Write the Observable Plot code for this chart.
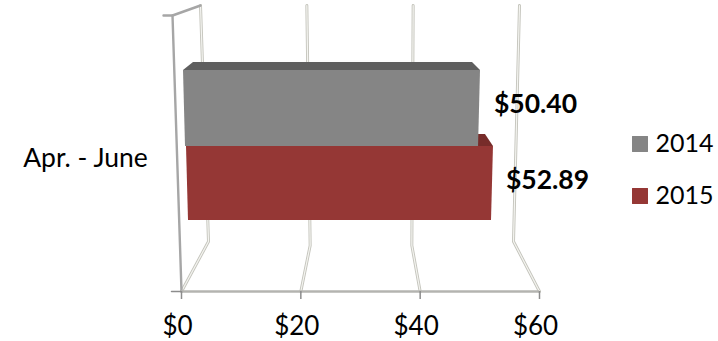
<!DOCTYPE html>
<html>
<head>
<meta charset="utf-8">
<script src="https://cdn.jsdelivr.net/npm/d3@7"></script>
<script src="https://cdn.jsdelivr.net/npm/@observablehq/plot@0.6"></script>
<style>
  html, body { margin: 0; padding: 0; background: #fff; }
  svg { display: block; }
</style>
</head>
<body>
<div id="chart"></div>
<script>
const quarter = "Apr. - June";
const years = ["2014", "2015"];
const revenue = [50.40, 52.89];
const colors = ["#858585", "#953735"];
const topColors = ["#5f5f5f", "#772c2a"];
const ticks = [0, 20, 40, 60];

// Horizontal position on the dollar axis for a pixel offset from the left edge.
const W = 718, H = 341, X0 = 181, X1 = 539, FLOOR = 291;
const PER_DOLLAR = (X1 - X0) / 60;
const toDollar = px => (px - X0) / PER_DOLLAR;
const rise = py => FLOOR - py;   // elevation above the floor of the 3-D box

// Walls of the box: each gridline runs across the floor, then up the back wall.
const backBottom = v => toDollar(208 + v * (513 - 208) / 60);
const backTop = v => toDollar(200 + v * (519 - 200) / 60);
const gridRows = ticks.flatMap(v => [
  {v, x: v, y: rise(291)},
  {v, x: backBottom(v), y: rise(v === 20 || v === 40 ? 245 : 241)},
  {v, x: backTop(v), y: rise(5)}
]);
const leftWall = [{x: toDollar(172), y: rise(15)}, {x: 0, y: rise(291)}];
const topEdge = [{x: toDollar(163), y: rise(15)}, {x: toDollar(172), y: rise(15)}, {x: backTop(0), y: rise(5)}];
const catTick = [{x: toDollar(171), y: 0}, {x: 0, y: 0}];

// The bars lean slightly with the perspective: faces are trapezoids.
const barGeom = [
  {top: 70, bottom: 146, left: 183, lean: 2, backY: 62, backIn: 8},
  {top: 146, bottom: 220, left: 186, lean: 2, backY: 134, backIn: 8}
];
const faceRows = revenue.flatMap((value, i) => {
  const g = barGeom[i];
  const scale = i === 0 ? 5.893 : 5.804;
  const l = toDollar(g.left), r = toDollar(g.left + value * scale);
  const d = toDollar(g.left + g.lean) - l;
  return [
    {year: years[i], x1: l, x2: r, y: rise(g.top)},
    {year: years[i], x1: l + d, x2: r - d * 0.98, y: rise(g.bottom)}
  ];
});
const topRows = revenue.flatMap((value, i) => {
  const g = barGeom[i];
  const scale = i === 0 ? 5.893 : 5.804;
  const l = toDollar(g.left), r = toDollar(g.left + value * scale);
  const inset = toDollar(X0 + g.backIn);
  return [
    {year: years[i], x1: l, x2: r, y: rise(g.top)},
    {year: years[i], x1: l + inset * 1.25, x2: r - inset, y: rise(g.backY)}
  ];
});
const labelPos = revenue.map((value, i) => ({
  text: "$" + value.toFixed(2),
  x: toDollar(i === 0 ? 535 : 547),
  y: rise(i === 0 ? 104 : 180)
}));

const fill = d3.scaleOrdinal(years, colors);
const topFill = d3.scaleOrdinal(years, topColors);

const plot = Plot.plot({
  width: W, height: H,
  marginLeft: X0, marginRight: W - X1, marginTop: 0, marginBottom: H - FLOOR,
  x: {domain: [0, 60], axis: null},
  y: {domain: [0, FLOOR], range: [FLOOR, 0], axis: null},
  style: {fontFamily: "Lato, 'Open Sans', sans-serif", background: "#fff", overflow: "hidden"},
  marks: [
    // Double-stroked grid
    Plot.line(gridRows, {x: "x", y: "y", z: "v", stroke: "#c4c4bc", strokeWidth: 3}),
    Plot.line(gridRows, {x: "x", y: "y", z: "v", stroke: "#f4f4f0", strokeWidth: 1.2}),
    // Box edges and floor
    Plot.line(leftWall, {x: "x", y: "y", stroke: "#a6a6a6", strokeWidth: 2.4}),
    Plot.line(topEdge, {x: "x", y: "y", stroke: "#a6a6a6", strokeWidth: 2.4}),
    Plot.line(catTick, {x: "x", y: "y", stroke: "#8c8c8c", strokeWidth: 1.5}),
    Plot.ruleY([0], {x1: 0, x2: 60, stroke: "#b4b4b0", strokeWidth: 2.6}),
    Plot.ruleX(ticks, {y1: 0, y2: -8, stroke: "#8c8c8c", strokeWidth: 1.5}),
    // Top faces, then front faces
    Plot.areaX(topRows, {x1: "x1", x2: "x2", y: "y", z: "year", fill: d => topFill(d.year)}),
    Plot.areaX(faceRows, {x1: "x1", x2: "x2", y: "y", z: "year", fill: d => fill(d.year)}),
    // Axis tick labels
    Plot.text(ticks, {x: d => d, y: rise(326), dx: -4, text: d => "$" + d, fontSize: 26, fill: "#000"}),
    // Category label
    Plot.text([quarter], {x: toDollar(85), y: rise(158), text: d => d, fontSize: 26.5, fill: "#000"}),
    // Value labels
    Plot.text(labelPos, {x: "x", y: "y", text: "text", fontSize: 26.5, fontWeight: 700, fill: "#000"}),
    // Legend
    Plot.dot(years, {x: toDollar(639.5), y: (d, i) => rise(i === 0 ? 143.5 : 195.5), symbol: "square", r: 9, fill: d => fill(d), stroke: null}),
    Plot.text(years, {x: toDollar(655), y: (d, i) => rise(i === 0 ? 143 : 195), text: d => d, textAnchor: "start", fontSize: 25, fill: "#000"})
  ]
});
document.getElementById("chart").appendChild(plot);
</script>
</body>
</html>
